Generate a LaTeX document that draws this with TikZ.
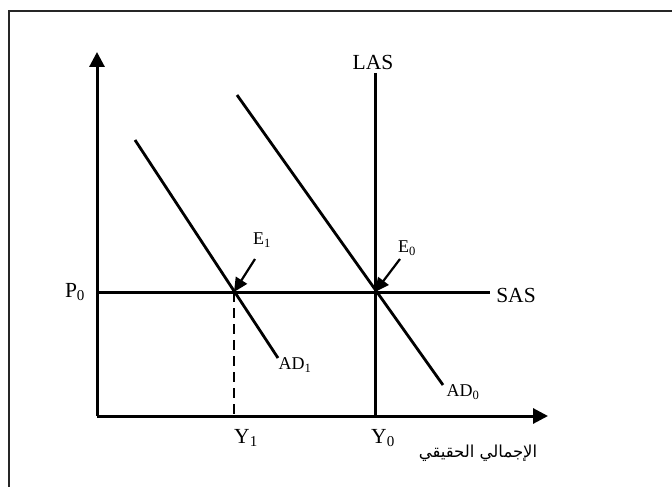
\documentclass[tikz,border=0pt]{standalone}
\usepackage{fontspec}
\setmainfont{Liberation Serif}
\newfontfamily\arabicfont[Script=Arabic]{DejaVu Sans}
\TeXXeTstate=1
\usetikzlibrary{arrows.meta}
\tikzset{every picture/.style={line width=3pt}}
\tikzset{
biglbl/.style={inner sep=0.75pt, font=\fontsize{21.5}{24}\selectfont},
smalllbl/.style={inner sep=0.75pt, font=\fontsize{18}{21}\selectfont},
curve/.style={line width=2.8pt},
pointer/.style={line width=2.2pt, -{Triangle[length=14pt,width=13pt]}},
axis/.style={line width=3pt, -{Triangle[length=15pt,width=15pt]}}}

\begin{document}
\begin{tikzpicture}[x=1pt,y=1pt,yscale=-1]
\useasboundingbox (0,0) rectangle (672,487);

%Frame
\draw [line width=1.2pt, color=black!85] (9,487) -- (9,11) -- (672,11) ;

%Points
\coordinate (O) at (97,416) ;
\coordinate (ytip) at (97,52) ;
\coordinate (xtip) at (548,416) ;
\coordinate (P0) at (97,292) ;
\coordinate (sasend) at (490,292) ;
\coordinate (lastop) at (375,73) ;
\coordinate (Y0) at (375,416) ;
\coordinate (E0) at (375,292) ;
\coordinate (E1) at (234,292) ;
\coordinate (Y1) at (234,416) ;
\coordinate (adtop0) at (237,95) ;
\coordinate (adend0) at (443,385) ;
\coordinate (adtop1) at (135,140) ;
\coordinate (adend1) at (278,358) ;
\coordinate (ptr0) at (400,259) ;
\coordinate (ptr1) at (255,259) ;

%Axes
\draw [axis] (O) -- (ytip) ;
\draw [axis] (O) -- (xtip) ;
%SAS and LAS
\draw (P0) -- (sasend) ;
\draw (lastop) -- (Y0) ;
%AD curves
\draw [curve] (adtop0) -- (adend0) ;
\draw [curve] (adtop1) -- (adend1) ;
%Dashed drop
\draw [line width=2.8pt, dash pattern={on 10pt off 6pt}] (E1) -- (Y1) ;
%Pointers to equilibria
\draw [pointer] (ptr0) -- (E0) ;
\draw [pointer] (ptr1) -- (E1) ;

% Text Node
\draw (373,62) node (las) [biglbl] {LAS};
% Text Node
\draw (516,295) node (sas) [biglbl] {SAS};
% Text Node
\draw (75,292) node (p0) [biglbl] {P\textsubscript{0}};
% Text Node
\draw (246,438) node (y1) [biglbl] {Y\textsubscript{1}};
% Text Node
\draw (383,438) node (y0) [biglbl] {Y\textsubscript{0}};
% Text Node
\draw (262,240) node (e1) [smalllbl] {E\textsubscript{1}};
% Text Node
\draw (407,248) node (e0) [smalllbl] {E\textsubscript{0}};
% Text Node
\draw (295,365) node (ad1) [smalllbl] {AD\textsubscript{1}};
% Text Node
\draw (463,392) node (ad0) [smalllbl] {AD\textsubscript{0}};
% Text Node
\draw (478,453) node (gdp) [inner sep=0.75pt, font=\fontsize{16.5}{19}\selectfont] {\arabicfont\beginR الإجمالي الحقيقي\endR};

\end{tikzpicture}
\end{document}
